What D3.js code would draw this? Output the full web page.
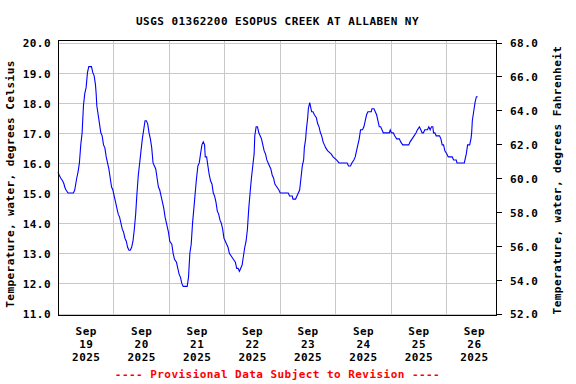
<!DOCTYPE html>
<html><head><meta charset="utf-8">
<script src="https://cdn.jsdelivr.net/npm/d3@7"></script>
<style>
html,body{margin:0;padding:0;background:#fff;}
text{font-family:"DejaVu Sans Mono","Liberation Mono",monospace;font-weight:bold;}
</style></head>
<body>
<svg id="chart" width="576" height="384"></svg>
<script>
// ---- data (hours after 2025-09-19 00:00, water temperature in deg C) ----
const hours = [0,0.5,1.16,2.03,2.6,2.9,3.48,4.35,6.66,7.24,8.11,8.69,9.27,9.85,10.43,11.01,11.59,12.17,12.75,13.33,14.49,15.06,15.64,16.22,16.51,16.8,17.38,17.96,18.54,19.12,19.7,20.28,20.86,21.44,22.02,22.6,23.18,23.76,24.33,24.91,25.49,26.07,26.65,27.23,27.81,28.39,28.97,29.55,30.13,30.71,31.29,31.87,32.45,33.03,33.61,34.19,34.77,35.35,35.92,36.5,37.08,37.66,38.24,38.82,39.4,39.98,40.56,41.14,41.72,42.3,42.88,43.46,44.04,44.62,45.2,45.77,46.35,46.93,47.8,48.38,49.25,49.83,50.41,51.28,51.85,52.43,53.01,53.59,54.17,55.91,56.49,57.07,57.65,58.23,58.81,59.39,59.97,60.55,61.13,61.7,62.28,62.86,63.44,63.73,64.31,64.89,65.47,66.05,66.63,67.21,67.79,68.37,68.95,69.53,70.11,70.69,71.26,71.84,72.42,73.0,73.58,74.16,75.03,75.9,76.77,77.35,77.93,78.51,79.09,79.67,80.25,80.83,81.4,81.98,82.56,83.14,83.72,84.3,84.88,85.17,85.75,86.33,86.91,87.49,88.07,88.65,89.23,89.81,90.39,90.96,91.54,92.12,92.7,93.28,93.86,94.73,95.6,96.18,99.65,100.23,101.4,101.68,102.84,103.42,104.0,104.58,105.16,105.74,106.32,106.61,107.19,107.48,108.06,108.35,108.93,109.22,109.79,110.37,110.95,111.82,112.4,112.98,113.56,114.14,114.72,115.3,115.88,116.75,118.2,119.06,120.51,121.67,125.15,125.73,126.6,127.18,128.05,128.63,129.2,129.78,130.36,130.94,131.81,132.39,132.97,133.55,134.13,135.58,135.87,136.74,137.32,137.9,138.48,139.05,139.63,140.21,140.79,143.4,143.8,144.3,145.14,145.72,146.59,147.74,148.32,149.19,151.8,152.38,153.25,154.12,154.99,155.57,156.44,157.02,157.59,158.17,158.75,159.91,160.49,161.07,161.65,162.23,162.52,163.1,163.68,165.13,165.71,166.29,166.87,167.44,168.31,168.9,170.63,171.21,172.37,172.66,175.85,176.14,176.72,177.29,178.16,178.74,179.03,179.32,179.9,180.48,181.06,181.64];
const tempC = [15.7,15.6,15.5,15.4,15.3,15.2,15.1,15.0,15.0,15.1,15.5,15.7,16.0,16.6,17.0,17.9,18.3,18.5,19.0,19.2,19.2,19.0,18.9,18.6,18.3,17.9,17.6,17.3,17.0,16.9,16.6,16.5,16.2,16.0,15.8,15.5,15.2,15.1,14.9,14.7,14.5,14.3,14.2,14.0,13.8,13.7,13.5,13.4,13.2,13.1,13.1,13.2,13.4,13.8,14.3,15.0,15.6,16.0,16.4,16.8,17.1,17.4,17.4,17.3,17.0,16.8,16.5,16.0,15.9,15.8,15.5,15.2,15.1,14.9,14.7,14.5,14.2,14.0,13.7,13.4,13.3,13.0,12.8,12.7,12.5,12.3,12.2,12.0,11.9,11.9,12.2,13.0,13.3,14.0,14.5,15.0,15.5,15.9,16.0,16.3,16.6,16.7,16.6,16.2,16.2,15.9,15.6,15.4,15.3,15.0,14.9,14.7,14.4,14.3,14.1,14.0,13.8,13.5,13.4,13.3,13.2,13.0,12.9,12.8,12.7,12.5,12.5,12.4,12.5,12.6,12.9,13.2,13.4,13.8,14.5,15.0,15.5,15.9,16.3,16.9,17.2,17.2,17.0,16.9,16.8,16.6,16.4,16.3,16.1,16.0,15.9,15.8,15.6,15.5,15.3,15.2,15.1,15.0,15.0,14.9,14.9,14.8,14.8,14.9,15.0,15.1,15.5,15.9,16.1,16.5,16.8,17.1,17.5,17.8,18.0,17.9,17.7,17.7,17.6,17.5,17.3,17.2,17.0,16.9,16.7,16.6,16.5,16.4,16.3,16.2,16.1,16.0,16.0,15.9,15.9,16.0,16.1,16.2,16.4,16.6,16.8,17.1,17.1,17.2,17.4,17.6,17.7,17.7,17.8,17.8,17.7,17.6,17.4,17.2,17.2,17.1,17.0,17.0,17.1,17.0,17.0,16.9,16.8,16.8,16.7,16.6,16.6,16.7,16.8,16.9,17.0,17.1,17.2,17.1,17.0,17.0,17.1,17.1,17.2,17.1,17.2,17.2,17.0,17.0,16.9,16.9,16.8,16.6,16.6,16.4,16.3,16.2,16.2,16.1,16.1,16.0,16.0,16.1,16.3,16.6,16.6,16.8,17.0,17.4,17.7,18.0,18.2,18.2];

const yTicksC = [11,12,13,14,15,16,17,18,19,20];
const yTicksF = [52,54,56,58,60,62,64,66,68];
const dayLabels = ["2025-09-19","2025-09-20","2025-09-21","2025-09-22","2025-09-23","2025-09-24","2025-09-25","2025-09-26"];
const titleText = "USGS 01362200 ESOPUS CREEK AT ALLABEN NY";
const yTitleLeft = "Temperature, water, degrees Celsius";
const yTitleRight = "Temperature, water, degrees Fahrenheit";
const footerText = "---- Provisional Data Subject to Revision ----";

// ---- layout ----
const L = 58, R = 497, T = 40, B = 316;
const parse = d3.utcParse("%Y-%m-%d");
const t0 = parse("2025-09-19");
const tEnd = d3.utcHour.offset(t0, 190.75);

const x = d3.scaleUtc().domain([t0, tEnd]).range([L, R]);
const y = d3.scaleLinear().domain([11, 20]).range([313.5, 42.5]);
const yF = d3.scaleLinear().domain([52, 68]).range([313.5, 42.5]);

const svg = d3.select("#chart");
svg.append("rect").attr("width",576).attr("height",384).attr("fill","#fff");

const fontSize = "11px", ls = "0.45px";

// horizontal gridlines
svg.append("g").attr("transform",`translate(${L},0)`)
  .call(d3.axisLeft(y).tickValues(yTicksC).tickSize(-(R-L)).tickFormat(""))
  .call(g=>g.select(".domain").remove())
  .call(g=>g.selectAll("line").attr("stroke","#c8c8c8").attr("shape-rendering","crispEdges"));

// vertical gridlines at midnights
const midnights = dayLabels.slice(1).map(parse);
svg.append("g").attr("transform",`translate(0,${B})`)
  .call(d3.axisBottom(x).tickValues(midnights).tickSize(-(B-T)).tickFormat(""))
  .call(g=>g.select(".domain").remove())
  .call(g=>g.selectAll("line").attr("stroke","#c8c8c8").attr("shape-rendering","crispEdges"));

// data line
const data = hours.map((h,i)=>({t:d3.utcMinute.offset(t0, Math.round(h*60)), v:tempC[i]}));
svg.append("path").datum(data)
  .attr("fill","none").attr("stroke","#0000ff").attr("stroke-width",1.1)
  .attr("d", d3.line().x(d=>x(d.t)).y(d=>y(d.v)));

// frame
svg.append("rect").attr("x",L+0.5).attr("y",T+0.5).attr("width",R-L-1).attr("height",B-T-1)
  .attr("fill","none").attr("stroke","#000").attr("stroke-width",1).attr("shape-rendering","crispEdges");

// left axis labels
svg.append("g").attr("transform",`translate(${L},0)`)
  .call(d3.axisLeft(y).tickValues(yTicksC).tickSize(0).tickPadding(7).tickFormat(d3.format(".1f")))
  .call(g=>g.select(".domain").remove())
  .call(g=>g.selectAll("text").attr("font-size",fontSize).attr("letter-spacing",ls)
     .attr("fill","#000").attr("font-family",null).attr("dy","0.4em"));

// right axis
svg.append("g").attr("transform",`translate(${R},0)`)
  .call(d3.axisRight(yF).tickValues(yTicksF).tickSize(5).tickPadding(8).tickFormat(d3.format(".1f")))
  .call(g=>g.select(".domain").remove())
  .call(g=>g.selectAll("line").attr("stroke","#000").attr("shape-rendering","crispEdges"))
  .call(g=>g.selectAll("text").attr("font-size",fontSize).attr("letter-spacing",ls)
     .attr("fill","#000").attr("font-family",null).attr("dy","0.4em"));

// bottom axis labels (at noon of each day)
const noons = dayLabels.map(d=>d3.utcHour.offset(parse(d),12));
const fmtMon = d3.utcFormat("%b"), fmtDay = d3.utcFormat("%d"), fmtYear = d3.utcFormat("%Y");
const xa = svg.append("g").attr("transform",`translate(0,${B})`)
  .call(d3.axisBottom(x).tickValues(noons).tickSize(0).tickPadding(0).tickFormat(""))
  .call(g=>g.select(".domain").remove());
xa.selectAll(".tick text").each(function(d){
  const t = d3.select(this).attr("y",null).attr("dy",null)
    .attr("font-size",fontSize).attr("letter-spacing",ls).attr("fill","#000").attr("font-family",null);
  [fmtMon(d), fmtDay(d), fmtYear(d)].forEach((s,i)=>{
    t.append("tspan").attr("x",0).attr("y",18.5+i*13).text(s);
  });
});

// titles
svg.append("text").attr("x",277.5).attr("y",25).attr("text-anchor","middle")
  .attr("font-size",fontSize).attr("letter-spacing",ls).text(titleText);
svg.append("text").attr("transform","translate(14,184) rotate(-90)").attr("text-anchor","middle")
  .attr("font-size",fontSize).attr("letter-spacing",ls).text(yTitleLeft);
svg.append("text").attr("transform","translate(561,180) rotate(-90)").attr("text-anchor","middle")
  .attr("font-size",fontSize).attr("letter-spacing",ls).text(yTitleRight);
svg.append("text").attr("x",277.5).attr("y",378).attr("text-anchor","middle")
  .attr("font-size",fontSize).attr("letter-spacing",ls).attr("fill","#ff0000").text(footerText);
</script>
</body></html>
